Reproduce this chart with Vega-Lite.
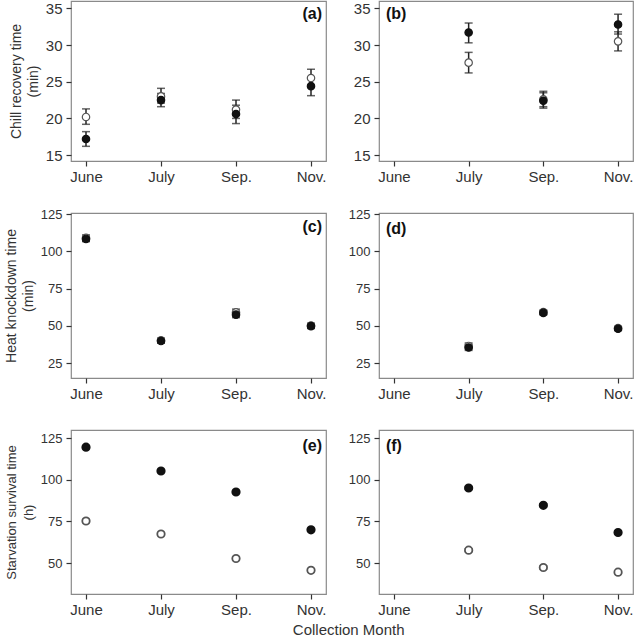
{
  "$schema": "https://vega.github.io/schema/vega-lite/v6.json",
  "padding": {"left": 3, "top": 0, "right": 5, "bottom": 2},
  "background": "white",
  "datasets": {
    "d": [
      {"panel": "a", "month": "June", "pop": "P2", "mean": 20.2, "lo": 19.2, "hi": 21.3},
      {"panel": "a", "month": "July", "pop": "P2", "mean": 23.0, "lo": 22.1, "hi": 24.1},
      {"panel": "a", "month": "Sep.", "pop": "P2", "mean": 21.2, "lo": 20.0, "hi": 22.5},
      {"panel": "a", "month": "Nov.", "pop": "P2", "mean": 25.5, "lo": 24.3, "hi": 26.7},
      {"panel": "a", "month": "June", "pop": "P1", "mean": 17.2, "lo": 16.2, "hi": 18.2},
      {"panel": "a", "month": "July", "pop": "P1", "mean": 22.5, "lo": 21.6, "hi": 23.4},
      {"panel": "a", "month": "Sep.", "pop": "P1", "mean": 20.6, "lo": 19.3, "hi": 21.8},
      {"panel": "a", "month": "Nov.", "pop": "P1", "mean": 24.4, "lo": 23.1, "hi": 25.6},
      {"panel": "b", "month": "July", "pop": "P2", "mean": 27.6, "lo": 26.2, "hi": 29.0},
      {"panel": "b", "month": "Sep.", "pop": "P2", "mean": 22.6, "lo": 21.6, "hi": 23.7},
      {"panel": "b", "month": "Nov.", "pop": "P2", "mean": 30.5, "lo": 29.2, "hi": 31.8},
      {"panel": "b", "month": "July", "pop": "P1", "mean": 31.7, "lo": 30.3, "hi": 33.0},
      {"panel": "b", "month": "Sep.", "pop": "P1", "mean": 22.4, "lo": 21.4, "hi": 23.5},
      {"panel": "b", "month": "Nov.", "pop": "P1", "mean": 32.8, "lo": 31.5, "hi": 34.2},
      {"panel": "c", "month": "June", "pop": "P2", "mean": 109.0, "lo": 107.0, "hi": 111.0},
      {"panel": "c", "month": "July", "pop": "P2", "mean": 40.3, "lo": 38.8, "hi": 41.8},
      {"panel": "c", "month": "Sep.", "pop": "P2", "mean": 59.0, "lo": 57.0, "hi": 61.2},
      {"panel": "c", "month": "Nov.", "pop": "P2", "mean": 50.2, "lo": 48.6, "hi": 51.8},
      {"panel": "c", "month": "June", "pop": "P1", "mean": 108.3, "lo": 106.5, "hi": 110.1},
      {"panel": "c", "month": "July", "pop": "P1", "mean": 39.8, "lo": 38.3, "hi": 41.3},
      {"panel": "c", "month": "Sep.", "pop": "P1", "mean": 57.5, "lo": 55.5, "hi": 59.5},
      {"panel": "c", "month": "Nov.", "pop": "P1", "mean": 49.8, "lo": 48.2, "hi": 51.4},
      {"panel": "d", "month": "July", "pop": "P2", "mean": 36.5, "lo": 34.5, "hi": 38.5},
      {"panel": "d", "month": "Sep.", "pop": "P2", "mean": 59.2, "lo": 57.8, "hi": 60.6},
      {"panel": "d", "month": "Nov.", "pop": "P2", "mean": 48.5, "lo": 47.3, "hi": 49.7},
      {"panel": "d", "month": "July", "pop": "P1", "mean": 35.5, "lo": 33.5, "hi": 37.5},
      {"panel": "d", "month": "Sep.", "pop": "P1", "mean": 58.7, "lo": 57.3, "hi": 60.1},
      {"panel": "d", "month": "Nov.", "pop": "P1", "mean": 48.0, "lo": 46.8, "hi": 49.2},
      {"panel": "e", "month": "June", "pop": "P2", "mean": 75.2, "lo": 74.2, "hi": 76.2},
      {"panel": "e", "month": "July", "pop": "P2", "mean": 67.4, "lo": 66.5, "hi": 68.3},
      {"panel": "e", "month": "Sep.", "pop": "P2", "mean": 52.7, "lo": 51.8, "hi": 53.6},
      {"panel": "e", "month": "Nov.", "pop": "P2", "mean": 45.6, "lo": 44.7, "hi": 46.5},
      {"panel": "e", "month": "June", "pop": "P1", "mean": 119.5, "lo": 118.5, "hi": 120.5},
      {"panel": "e", "month": "July", "pop": "P1", "mean": 105.2, "lo": 104.3, "hi": 106.1},
      {"panel": "e", "month": "Sep.", "pop": "P1", "mean": 92.6, "lo": 91.7, "hi": 93.5},
      {"panel": "e", "month": "Nov.", "pop": "P1", "mean": 69.9, "lo": 69.0, "hi": 70.8},
      {"panel": "f", "month": "July", "pop": "P2", "mean": 57.7, "lo": 56.8, "hi": 58.6},
      {"panel": "f", "month": "Sep.", "pop": "P2", "mean": 47.3, "lo": 46.4, "hi": 48.2},
      {"panel": "f", "month": "Nov.", "pop": "P2", "mean": 44.5, "lo": 43.7, "hi": 45.3},
      {"panel": "f", "month": "July", "pop": "P1", "mean": 95.0, "lo": 94.1, "hi": 95.9},
      {"panel": "f", "month": "Sep.", "pop": "P1", "mean": 84.6, "lo": 83.7, "hi": 85.5},
      {"panel": "f", "month": "Nov.", "pop": "P1", "mean": 68.3, "lo": 67.5, "hi": 69.1}
    ]
  },
  "title": {"text": "Collection Month", "orient": "bottom", "anchor": "middle", "frame": "bounds", "offset": 5, "dx": 30, "fontSize": 15, "fontWeight": "normal", "font": "Liberation Sans", "color": "#333333"},
  "bounds": "flush",
  "columns": 2,
  "spacing": {"row": 52, "column": 53},
  "concat": [
    {
      "width": 255, "height": 160,
      "encoding": {"x": {"field": "month", "type": "ordinal", "scale": {"type": "point", "domain": ["June", "July", "Sep.", "Nov."], "padding": 0.2}, "title": null}},
      "layer": [
        {"data": {"name": "d"}, "transform": [{"filter": "datum.panel === 'a'"}], "mark": {"type": "rule", "color": "#222222", "strokeWidth": 1.5}, "encoding": {"y": {"field": "lo", "type": "quantitative", "scale": {"domain": [14.2, 36], "nice": false, "zero": false}, "axis": {"values": [15, 20, 25, 30, 35], "labelFontSize": 15, "title": ["Chill recovery time", "(min)"]}}, "y2": {"field": "hi"}}},
        {"data": {"name": "d"}, "transform": [{"filter": "datum.panel === 'a'"}], "mark": {"type": "tick", "orient": "horizontal", "size": 8, "thickness": 1.5, "color": "#222222"}, "encoding": {"y": {"field": "lo", "type": "quantitative", "axis": {"values": [15, 20, 25, 30, 35], "labelFontSize": 15, "title": ["Chill recovery time", "(min)"]}}}},
        {"data": {"name": "d"}, "transform": [{"filter": "datum.panel === 'a'"}], "mark": {"type": "tick", "orient": "horizontal", "size": 8, "thickness": 1.5, "color": "#222222"}, "encoding": {"y": {"field": "hi", "type": "quantitative", "axis": {"values": [15, 20, 25, 30, 35], "labelFontSize": 15, "title": ["Chill recovery time", "(min)"]}}}},
        {"data": {"name": "d"}, "transform": [{"filter": "datum.panel === 'a'"}], "mark": {"type": "point", "filled": true, "size": 55, "strokeWidth": 1.2, "opacity": 1}, "encoding": {"y": {"field": "mean", "type": "quantitative", "axis": {"values": [15, 20, 25, 30, 35], "labelFontSize": 15, "title": ["Chill recovery time", "(min)"]}}, "fill": {"field": "pop", "type": "nominal", "scale": {"domain": ["P1", "P2"], "range": ["#111111", "#ffffff"]}, "legend": null}, "stroke": {"field": "pop", "type": "nominal", "scale": {"domain": ["P1", "P2"], "range": ["#111111", "#555555"]}, "legend": null}}},
        {"data": {"values": [{"label": "(a)"}]}, "mark": {"type": "text", "align": "right", "baseline": "top", "dx": 11, "dy": 5, "fontSize": 16, "fontWeight": "bold", "color": "#111111"}, "encoding": {"text": {"field": "label"}, "x": {"datum": "Nov."}, "y": {"datum": 36, "type": "quantitative", "axis": {"values": [15, 20, 25, 30, 35], "labelFontSize": 15, "title": ["Chill recovery time", "(min)"]}}}}
      ]
    },
    {
      "width": 254, "height": 160,
      "encoding": {"x": {"field": "month", "type": "ordinal", "scale": {"type": "point", "domain": ["June", "July", "Sep.", "Nov."], "padding": 0.2}, "title": null}},
      "layer": [
        {"data": {"name": "d"}, "transform": [{"filter": "datum.panel === 'b'"}], "mark": {"type": "rule", "color": "#222222", "strokeWidth": 1.5}, "encoding": {"y": {"field": "lo", "type": "quantitative", "scale": {"domain": [14.2, 36], "nice": false, "zero": false}, "axis": {"values": [15, 20, 25, 30, 35], "labelFontSize": 15, "title": null}}, "y2": {"field": "hi"}}},
        {"data": {"name": "d"}, "transform": [{"filter": "datum.panel === 'b'"}], "mark": {"type": "tick", "orient": "horizontal", "size": 8, "thickness": 1.5, "color": "#222222"}, "encoding": {"y": {"field": "lo", "type": "quantitative", "axis": {"values": [15, 20, 25, 30, 35], "labelFontSize": 15, "title": null}}}},
        {"data": {"name": "d"}, "transform": [{"filter": "datum.panel === 'b'"}], "mark": {"type": "tick", "orient": "horizontal", "size": 8, "thickness": 1.5, "color": "#222222"}, "encoding": {"y": {"field": "hi", "type": "quantitative", "axis": {"values": [15, 20, 25, 30, 35], "labelFontSize": 15, "title": null}}}},
        {"data": {"name": "d"}, "transform": [{"filter": "datum.panel === 'b'"}], "mark": {"type": "point", "filled": true, "size": 55, "strokeWidth": 1.2, "opacity": 1}, "encoding": {"y": {"field": "mean", "type": "quantitative", "axis": {"values": [15, 20, 25, 30, 35], "labelFontSize": 15, "title": null}}, "fill": {"field": "pop", "type": "nominal", "scale": {"domain": ["P1", "P2"], "range": ["#111111", "#ffffff"]}, "legend": null}, "stroke": {"field": "pop", "type": "nominal", "scale": {"domain": ["P1", "P2"], "range": ["#111111", "#555555"]}, "legend": null}}},
        {"data": {"values": [{"label": "(b)"}]}, "mark": {"type": "text", "align": "left", "baseline": "top", "dx": -8, "dy": 5, "fontSize": 16, "fontWeight": "bold", "color": "#111111"}, "encoding": {"text": {"field": "label"}, "x": {"datum": "June"}, "y": {"datum": 36, "type": "quantitative", "axis": {"values": [15, 20, 25, 30, 35], "labelFontSize": 15, "title": null}}}}
      ]
    },
    {
      "width": 255, "height": 165,
      "encoding": {"x": {"field": "month", "type": "ordinal", "scale": {"type": "point", "domain": ["June", "July", "Sep.", "Nov."], "padding": 0.2}, "title": null}},
      "layer": [
        {"data": {"name": "d"}, "transform": [{"filter": "datum.panel === 'c'"}], "mark": {"type": "rule", "color": "#222222", "strokeWidth": 1.5}, "encoding": {"y": {"field": "lo", "type": "quantitative", "scale": {"domain": [15, 125.7], "nice": false, "zero": false}, "axis": {"values": [25, 50, 75, 100, 125], "title": ["Heat knockdown time", "(min)"]}}, "y2": {"field": "hi"}}},
        {"data": {"name": "d"}, "transform": [{"filter": "datum.panel === 'c'"}], "mark": {"type": "tick", "orient": "horizontal", "size": 8, "thickness": 1.5, "color": "#222222"}, "encoding": {"y": {"field": "lo", "type": "quantitative", "axis": {"values": [25, 50, 75, 100, 125], "title": ["Heat knockdown time", "(min)"]}}}},
        {"data": {"name": "d"}, "transform": [{"filter": "datum.panel === 'c'"}], "mark": {"type": "tick", "orient": "horizontal", "size": 8, "thickness": 1.5, "color": "#222222"}, "encoding": {"y": {"field": "hi", "type": "quantitative", "axis": {"values": [25, 50, 75, 100, 125], "title": ["Heat knockdown time", "(min)"]}}}},
        {"data": {"name": "d"}, "transform": [{"filter": "datum.panel === 'c'"}], "mark": {"type": "point", "filled": true, "size": 55, "strokeWidth": 1.2, "opacity": 1}, "encoding": {"y": {"field": "mean", "type": "quantitative", "axis": {"values": [25, 50, 75, 100, 125], "title": ["Heat knockdown time", "(min)"]}}, "fill": {"field": "pop", "type": "nominal", "scale": {"domain": ["P1", "P2"], "range": ["#111111", "#ffffff"]}, "legend": null}, "stroke": {"field": "pop", "type": "nominal", "scale": {"domain": ["P1", "P2"], "range": ["#111111", "#555555"]}, "legend": null}}},
        {"data": {"values": [{"label": "(c)"}]}, "mark": {"type": "text", "align": "right", "baseline": "top", "dx": 11, "dy": 6, "fontSize": 16, "fontWeight": "bold", "color": "#111111"}, "encoding": {"text": {"field": "label"}, "x": {"datum": "Nov."}, "y": {"datum": 125.7, "type": "quantitative", "axis": {"values": [25, 50, 75, 100, 125], "title": ["Heat knockdown time", "(min)"]}}}}
      ]
    },
    {
      "width": 254, "height": 165,
      "encoding": {"x": {"field": "month", "type": "ordinal", "scale": {"type": "point", "domain": ["June", "July", "Sep.", "Nov."], "padding": 0.2}, "title": null}},
      "layer": [
        {"data": {"name": "d"}, "transform": [{"filter": "datum.panel === 'd'"}], "mark": {"type": "rule", "color": "#222222", "strokeWidth": 1.5}, "encoding": {"y": {"field": "lo", "type": "quantitative", "scale": {"domain": [15, 125.7], "nice": false, "zero": false}, "axis": {"values": [25, 50, 75, 100, 125], "title": null}}, "y2": {"field": "hi"}}},
        {"data": {"name": "d"}, "transform": [{"filter": "datum.panel === 'd'"}], "mark": {"type": "tick", "orient": "horizontal", "size": 8, "thickness": 1.5, "color": "#222222"}, "encoding": {"y": {"field": "lo", "type": "quantitative", "axis": {"values": [25, 50, 75, 100, 125], "title": null}}}},
        {"data": {"name": "d"}, "transform": [{"filter": "datum.panel === 'd'"}], "mark": {"type": "tick", "orient": "horizontal", "size": 8, "thickness": 1.5, "color": "#222222"}, "encoding": {"y": {"field": "hi", "type": "quantitative", "axis": {"values": [25, 50, 75, 100, 125], "title": null}}}},
        {"data": {"name": "d"}, "transform": [{"filter": "datum.panel === 'd'"}], "mark": {"type": "point", "filled": true, "size": 55, "strokeWidth": 1.2, "opacity": 1}, "encoding": {"y": {"field": "mean", "type": "quantitative", "axis": {"values": [25, 50, 75, 100, 125], "title": null}}, "fill": {"field": "pop", "type": "nominal", "scale": {"domain": ["P1", "P2"], "range": ["#111111", "#ffffff"]}, "legend": null}, "stroke": {"field": "pop", "type": "nominal", "scale": {"domain": ["P1", "P2"], "range": ["#111111", "#555555"]}, "legend": null}}},
        {"data": {"values": [{"label": "(d)"}]}, "mark": {"type": "text", "align": "left", "baseline": "top", "dx": -8, "dy": 8, "fontSize": 16, "fontWeight": "bold", "color": "#111111"}, "encoding": {"text": {"field": "label"}, "x": {"datum": "June"}, "y": {"datum": 125.7, "type": "quantitative", "axis": {"values": [25, 50, 75, 100, 125], "title": null}}}}
      ]
    },
    {
      "width": 255, "height": 164,
      "encoding": {"x": {"field": "month", "type": "ordinal", "scale": {"type": "point", "domain": ["June", "July", "Sep.", "Nov."], "padding": 0.2}, "title": null}},
      "layer": [
        {"data": {"name": "d"}, "transform": [{"filter": "datum.panel === 'e'"}], "mark": {"type": "rule", "color": "#222222", "strokeWidth": 1.5}, "encoding": {"y": {"field": "lo", "type": "quantitative", "scale": {"domain": [31.4, 129.8], "nice": false, "zero": false}, "axis": {"values": [50, 75, 100, 125], "titleFontSize": 13, "title": ["Starvation survival time", "(h)"]}}, "y2": {"field": "hi"}}},
        {"data": {"name": "d"}, "transform": [{"filter": "datum.panel === 'e'"}], "mark": {"type": "tick", "orient": "horizontal", "size": 8, "thickness": 1.5, "color": "#222222"}, "encoding": {"y": {"field": "lo", "type": "quantitative", "axis": {"values": [50, 75, 100, 125], "titleFontSize": 13, "title": ["Starvation survival time", "(h)"]}}}},
        {"data": {"name": "d"}, "transform": [{"filter": "datum.panel === 'e'"}], "mark": {"type": "tick", "orient": "horizontal", "size": 8, "thickness": 1.5, "color": "#222222"}, "encoding": {"y": {"field": "hi", "type": "quantitative", "axis": {"values": [50, 75, 100, 125], "titleFontSize": 13, "title": ["Starvation survival time", "(h)"]}}}},
        {"data": {"name": "d"}, "transform": [{"filter": "datum.panel === 'e'"}], "mark": {"type": "point", "filled": true, "size": 55, "strokeWidth": 1.8, "opacity": 1}, "encoding": {"y": {"field": "mean", "type": "quantitative", "axis": {"values": [50, 75, 100, 125], "titleFontSize": 13, "title": ["Starvation survival time", "(h)"]}}, "fill": {"field": "pop", "type": "nominal", "scale": {"domain": ["P1", "P2"], "range": ["#111111", "#ffffff"]}, "legend": null}, "stroke": {"field": "pop", "type": "nominal", "scale": {"domain": ["P1", "P2"], "range": ["#111111", "#555555"]}, "legend": null}}},
        {"data": {"values": [{"label": "(e)"}]}, "mark": {"type": "text", "align": "right", "baseline": "top", "dx": 11, "dy": 8, "fontSize": 16, "fontWeight": "bold", "color": "#111111"}, "encoding": {"text": {"field": "label"}, "x": {"datum": "Nov."}, "y": {"datum": 129.8, "type": "quantitative", "axis": {"values": [50, 75, 100, 125], "titleFontSize": 13, "title": ["Starvation survival time", "(h)"]}}}}
      ]
    },
    {
      "width": 254, "height": 164,
      "encoding": {"x": {"field": "month", "type": "ordinal", "scale": {"type": "point", "domain": ["June", "July", "Sep.", "Nov."], "padding": 0.2}, "title": null}},
      "layer": [
        {"data": {"name": "d"}, "transform": [{"filter": "datum.panel === 'f'"}], "mark": {"type": "rule", "color": "#222222", "strokeWidth": 1.5}, "encoding": {"y": {"field": "lo", "type": "quantitative", "scale": {"domain": [31.4, 129.8], "nice": false, "zero": false}, "axis": {"values": [50, 75, 100, 125], "title": null}}, "y2": {"field": "hi"}}},
        {"data": {"name": "d"}, "transform": [{"filter": "datum.panel === 'f'"}], "mark": {"type": "tick", "orient": "horizontal", "size": 8, "thickness": 1.5, "color": "#222222"}, "encoding": {"y": {"field": "lo", "type": "quantitative", "axis": {"values": [50, 75, 100, 125], "title": null}}}},
        {"data": {"name": "d"}, "transform": [{"filter": "datum.panel === 'f'"}], "mark": {"type": "tick", "orient": "horizontal", "size": 8, "thickness": 1.5, "color": "#222222"}, "encoding": {"y": {"field": "hi", "type": "quantitative", "axis": {"values": [50, 75, 100, 125], "title": null}}}},
        {"data": {"name": "d"}, "transform": [{"filter": "datum.panel === 'f'"}], "mark": {"type": "point", "filled": true, "size": 55, "strokeWidth": 1.8, "opacity": 1}, "encoding": {"y": {"field": "mean", "type": "quantitative", "axis": {"values": [50, 75, 100, 125], "title": null}}, "fill": {"field": "pop", "type": "nominal", "scale": {"domain": ["P1", "P2"], "range": ["#111111", "#ffffff"]}, "legend": null}, "stroke": {"field": "pop", "type": "nominal", "scale": {"domain": ["P1", "P2"], "range": ["#111111", "#555555"]}, "legend": null}}},
        {"data": {"values": [{"label": "(f)"}]}, "mark": {"type": "text", "align": "left", "baseline": "top", "dx": -8, "dy": 8, "fontSize": 16, "fontWeight": "bold", "color": "#111111"}, "encoding": {"text": {"field": "label"}, "x": {"datum": "June"}, "y": {"datum": 129.8, "type": "quantitative", "axis": {"values": [50, 75, 100, 125], "title": null}}}}
      ]
    }
  ],
  "config": {
    "font": "Liberation Sans",
    "view": {"stroke": "#8a8a8a", "strokeWidth": 1.2},
    "axis": {"grid": false, "domain": false, "tickColor": "#333333", "tickWidth": 1.2, "tickSize": 5, "labelColor": "#333333", "labelFont": "Liberation Sans", "titleFont": "Liberation Sans", "titleColor": "#333333", "titleFontWeight": "normal"},
    "axisX": {"labelAngle": 0, "labelFontSize": 15, "labelPadding": 3, "offset": 0},
    "axisY": {"labelFontSize": 13, "labelPadding": 4, "titleFontSize": 14, "titlePadding": 5, "titleLineHeight": 17},
    "title": {"font": "Liberation Sans", "fontSize": 16, "fontWeight": "bold", "color": "#111111"}
  }
}
